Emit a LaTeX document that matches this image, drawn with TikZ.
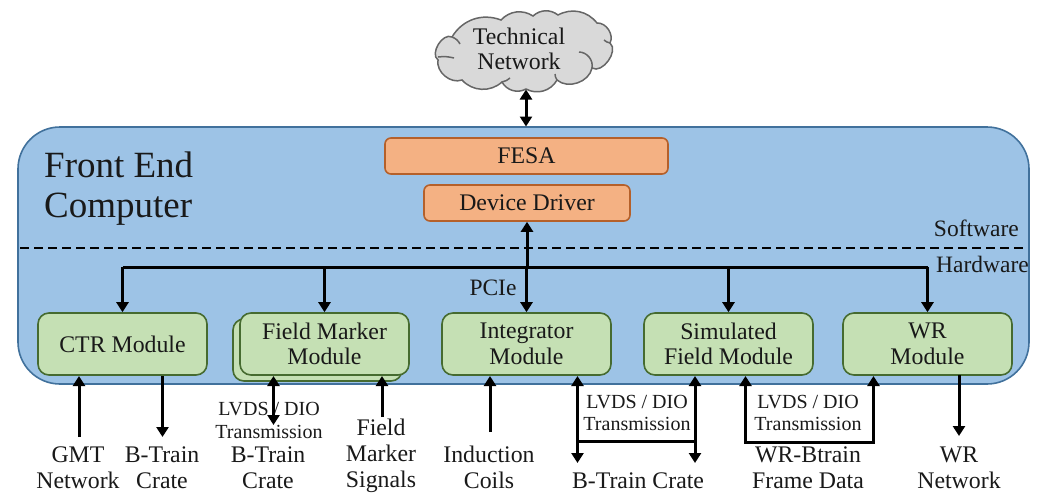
\documentclass[tikz,border=0pt]{standalone}
\usepackage{fontspec}
\setmainfont{Liberation Serif}
\usetikzlibrary{arrows.meta,calc}
\definecolor{mainfill}{HTML}{9DC3E6}
\definecolor{mainline}{HTML}{41719C}
\definecolor{orfill}{HTML}{F4B183}
\definecolor{orline}{HTML}{B5602A}
\definecolor{grfill}{HTML}{C5E0B4}
\definecolor{grline}{HTML}{466B30}
\definecolor{clfill}{HTML}{D9D9D9}
\definecolor{clline}{HTML}{666666}
\tikzset{
  x=1pt,y=1pt,
  txt/.style={inner sep=0pt,align=center,font=\fontsize{23.8}{25.7}\selectfont,text=black!90},
  small/.style={inner sep=0pt,align=center,font=\fontsize{20}{22.5}\selectfont,text=black!90},
  modbox/.style={draw=grline,fill=grfill,line width=1.6pt,rounded corners=11pt,minimum width=169pt,minimum height=62pt,inner sep=0pt,align=center,font=\fontsize{23.8}{25.7}\selectfont,text=black!90},
  orbox/.style={draw=orline,fill=orfill,line width=1.6pt,rounded corners=6pt,minimum height=36pt,inner sep=0pt,font=\fontsize{23.8}{25.7}\selectfont,text=black!90},
  arr/.style={line width=3pt,draw=black,-{Triangle[length=10pt,width=12pt]}},
  darr/.style={line width=3pt,draw=black,{Triangle[length=10pt,width=12pt]}-{Triangle[length=10pt,width=12pt]}},
  plain/.style={line width=3pt,draw=black},
  cloudline/.style={draw=clline,line width=1.5pt},
}
\begin{document}
\begin{tikzpicture}
\useasboundingbox (0,0) rectangle (1041,-493);
% main computer box
\node[draw=mainline,fill=mainfill,line width=1.6pt,rounded corners=42pt,minimum width=1011pt,minimum height=257pt,inner sep=0pt] (fec) at (523.5,-255.5) {};
% cloud
\draw[cloudline,fill=clfill] (452,-37) to[bend right=85] (438,-60) to[bend right=60] (462,-80)
  to[bend right=45] (502,-82) to[bend right=45] (526,-89) to[bend right=45] (557,-80)
  to[bend right=60] (592,-68) to[bend right=85] (610,-43) to[bend right=60] (597,-23)
  to[bend right=40] (558,-15) to[bend right=40] (533,-16) to[bend right=40] (501,-20)
  to[bend right=40] (452,-37) -- cycle;
\draw[cloudline] (438,-57) to[bend left=10] (454,-58);
\draw[cloudline] (452,-37) to[bend left=20] (460,-44);
\draw[cloudline] (502,-82) to[bend right=15] (510,-78);
\draw[cloudline] (557,-80) to[bend left=15] (555,-74);
\draw[cloudline] (592,-68) to[bend right=50] (579,-52);
\draw[cloudline] (610,-43) to[bend left=15] (604,-40);
\node[txt,anchor=center] (cloudtext) at (519,-49) {Technical\\Network};
\coordinate (cloudbot) at (526,-89.5);
\coordinate (fectop) at (526,-126.5);
\draw[darr] (cloudbot) -- (fectop);
% software boxes
\node[orbox,minimum width=283pt] (fesa) at (526.5,-156) {FESA};
\node[orbox,minimum width=206pt] (driver) at (527,-203) {Device Driver};
% front end title
\node[inner sep=0pt,align=left,anchor=west,font=\fontsize{37}{40}\selectfont,text=black!90] (title) at (44,-188.5) {Front End\\Computer};
% separator
\coordinate (sepL) at (20,-248);
\coordinate (sepR) at (1025,-248);
\draw[line width=2.4pt,dash pattern=on 9pt off 5pt] (sepL) -- (sepR);
\node[txt,font=\fontsize{23.5}{24}\selectfont,anchor=east] (sw) at (1019,-228) {Software};
\node[txt,font=\fontsize{23.5}{24}\selectfont,anchor=east] (hw) at (1029,-264) {Hardware};
\node[txt,font=\fontsize{23.5}{24}\selectfont] (pcie) at (493,-288) {PCIe};
% modules
\node[modbox] (fmback) at (317.5,-350) {};
\node[modbox] (ctr) at (122.5,-344) {CTR Module};
\node[modbox] (fm) at (324.5,-344) {Field Marker\\Module};
\node[modbox] (int) at (526.5,-344) {Integrator\\Module};
\node[modbox] (sim) at (728.5,-344) {Simulated\\Field Module};
\node[modbox] (wr) at (927.5,-344) {WR\\Module};
% bus
\coordinate (bus) at (527,-267);
\draw[plain,line cap=butt] (ctr.north |- bus) -- (wr.north |- bus);
\draw[arr] (bus) -- (driver.south -| bus);
\draw[arr] (bus -| ctr.north) -- (ctr.north);
\draw[arr] (bus -| fm.north) -- (fm.north);
\draw[arr] (bus -| int.north) -- (int.north);
\draw[arr] (bus -| sim.north) -- (sim.north);
\draw[arr] (bus -| wr.north) -- (wr.north);
% bottom labels
\node[txt] (gmt) at (78,-467.5) {GMT\\Network};
\node[txt] (bt1) at (162,-467.5) {B-Train\\Crate};
\node[small] (lv1) at (269,-420.5) {LVDS / DIO\\Transmission};
\node[txt] (bt2) at (268,-467.5) {B-Train\\Crate};
\node[txt] (fms) at (381,-456) {Field\\Marker\\Signals};
\node[txt] (ind) at (489,-467.5) {Induction\\Coils};
\node[small] (lv2) at (637,-413) {LVDS / DIO\\Transmission};
\node[txt] (bt3) at (638,-480.5) {B-Train Crate};
\node[small] (lv3) at (808,-413) {LVDS / DIO\\Transmission};
\node[txt] (wrb) at (808,-467.5) {WR-Btrain\\Frame Data};
\node[txt] (wrn) at (959,-467.5) {WR\\Network};
% bottom connectors
\coordinate (a1s) at (79,-437); \coordinate (a1e) at (79,-376);
\draw[arr] (a1s) -- (a1e);
\coordinate (a2s) at (162.5,-376); \coordinate (a2e) at (162.5,-437);
\draw[arr] (a2s) -- (a2e);
\coordinate (a3s) at (273.5,-376); \coordinate (a3e) at (273.5,-425);
\draw[darr] (a3s) -- (a3e);
\coordinate (a4s) at (382,-417); \coordinate (a4e) at (382,-376);
\draw[arr] (a4s) -- (a4e);
\coordinate (a5s) at (490,-432); \coordinate (a5e) at (490,-376);
\draw[arr] (a5s) -- (a5e);
\coordinate (a6s) at (577.5,-376); \coordinate (a6e) at (577.5,-463);
\draw[darr] (a6s) -- (a6e);
\coordinate (a7s) at (695,-376); \coordinate (a7e) at (695,-463);
\draw[darr] (a7s) -- (a7e);
\coordinate (bar) at (577.5,-441.5);
\draw[plain] (bar) -- (bar -| a7s);
\coordinate (a8s) at (745.5,-376); \coordinate (a8e) at (873.5,-376);
\draw[line width=3pt,{Triangle[length=10pt,width=12pt]}-{Triangle[length=10pt,width=12pt]},line join=miter] (a8s) |- (809.5,-442) -| (a8e);
\coordinate (a9s) at (959,-375); \coordinate (a9e) at (959,-436);
\draw[arr] (a9s) -- (a9e);
\end{tikzpicture}
\end{document}
